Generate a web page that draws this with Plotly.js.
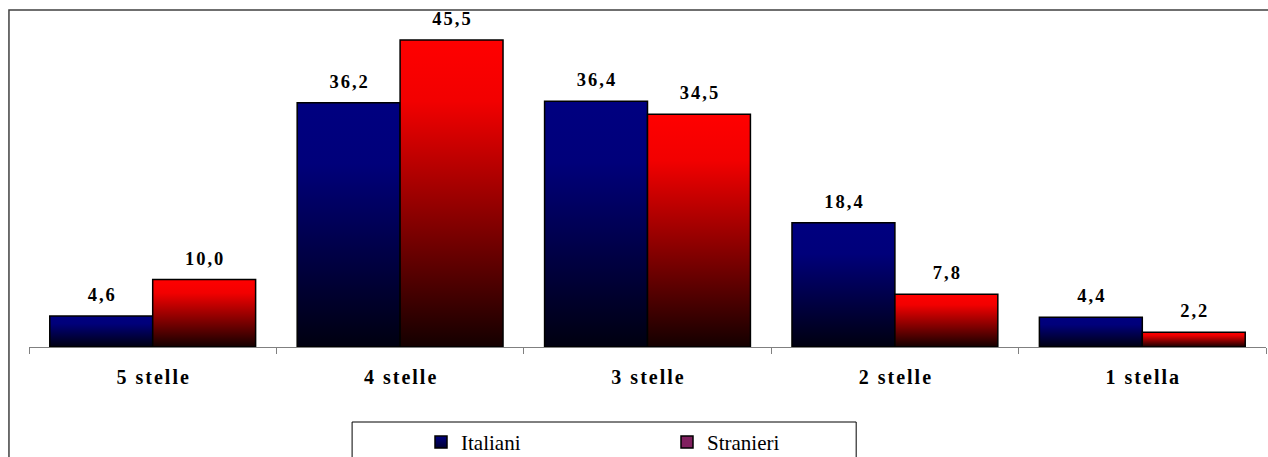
<!DOCTYPE html>
<html>
<head>
<meta charset="utf-8">
<script src="https://cdn.plot.ly/plotly-3.0.1.min.js"></script>
<style>
html,body{margin:0;padding:0;background:#fff;}
#chart{width:1268px;height:457px;}
#chart svg text{font-family:'Liberation Serif','Times New Roman',serif !important;}
</style>
</head>
<body>
<div id="chart"></div>
<script>
var categories = ["5 stelle", "4 stelle", "3 stelle", "2 stelle", "1 stella"];
var italiani = [4.6, 36.2, 36.4, 18.4, 4.4];
var stranieri = [10.0, 45.5, 34.5, 7.8, 2.2];
var seriesNames = ["Italiani", "Stranieri"];

var SERIF = "Liberation Serif";
var labelFont = {family: SERIF, size: 18.5, color: "#000", weight: "bold"};

var traces = [
  {
    type: "bar", name: seriesNames[0], x: categories, y: italiani,
    marker: {color: "#000080", line: {color: "#000", width: 1.5}},
    texttemplate: "%{y:.1f}", textposition: "outside", cliponaxis: false,
    textfont: labelFont, hoverinfo: "none"
  },
  {
    type: "bar", name: seriesNames[1], x: categories, y: stranieri,
    marker: {color: "#80205f", line: {color: "#000", width: 1.5}},
    texttemplate: "%{y:.1f}", textposition: "outside", cliponaxis: false,
    textfont: labelFont, hoverinfo: "none"
  }
];

var layout = {
  width: 1268, height: 457,
  margin: {l: 29, r: 2, t: 20, b: 110, autoexpand: false},
  paper_bgcolor: "#fff", plot_bgcolor: "#fff",
  font: {family: SERIF, color: "#000"},
  separators: ",.",
  barmode: "group", bargap: 0.168, bargroupgap: 0,
  showlegend: true,
  legend: {
    orientation: "h", x: 0.3169, xanchor: "left", y: -0.229, yanchor: "top",
    font: {family: SERIF, size: 21, color: "#000"},
    bgcolor: "rgba(0,0,0,0)", borderwidth: 0,
    entrywidth: 201, entrywidthmode: "pixels", itemclick: false
  },
  xaxis: {
    type: "category", showline: true, linecolor: "#808080", linewidth: 1,
    ticks: "outside", tickson: "boundaries", ticklen: 6, tickcolor: "#808080",
    tickfont: {family: SERIF, size: 20, color: "#000", weight: "bold"},
    ticklabelstandoff: 12, showgrid: false, zeroline: false, fixedrange: true,
    automargin: false
  },
  yaxis: {
    range: [0, 48.45], visible: false, showgrid: false, zeroline: false, fixedrange: true
  },
  shapes: [
    {type: "rect", xref: "paper", yref: "paper", x0: -0.0162, x1: 1.05, y0: -0.3425, y1: 1.0306,
     line: {color: "#404040", width: 1.5}, fillcolor: "rgba(0,0,0,0)", layer: "below"},
    {type: "rect", xref: "paper", yref: "paper", x0: 0.2612, x1: 0.6687, y0: -0.2294, y1: -0.5,
     line: {color: "#000", width: 1}, fillcolor: "rgba(0,0,0,0)", layer: "below"}
  ]
};

Plotly.newPlot("chart", traces, layout, {staticPlot: true, displayModeBar: false}).then(function (gd) {
  var svg = gd.querySelector("svg.main-svg");
  var ns = "http://www.w3.org/2000/svg";
  var defs = document.createElementNS(ns, "defs");
  function grad(id, stops) {
    var g = document.createElementNS(ns, "linearGradient");
    g.setAttribute("id", id);
    g.setAttribute("x1", "0"); g.setAttribute("y1", "0");
    g.setAttribute("x2", "0"); g.setAttribute("y2", "1");
    stops.forEach(function (s) {
      var st = document.createElementNS(ns, "stop");
      st.setAttribute("offset", s[0]);
      st.setAttribute("stop-color", s[1]);
      g.appendChild(st);
    });
    defs.appendChild(g);
  }
  grad("gBlue", [["0", "#000080"], ["0.25", "#00007a"], ["1", "#000010"]]);
  grad("gRed", [["0", "#ff0000"], ["0.2", "#f20000"], ["1", "#140000"]]);
  grad("gBlueLeg", [["0", "#000080"], ["1", "#000030"]]);
  svg.insertBefore(defs, svg.firstChild);
  var ids = ["gBlue", "gRed"];
  gd.querySelectorAll(".barlayer .trace.bars").forEach(function (tr, i) {
    tr.querySelectorAll(".point path").forEach(function (p) {
      p.style.fill = "url(#" + ids[i] + ")";
    });
    tr.querySelectorAll(".point text").forEach(function (t) {
      var tf = t.getAttribute("transform") || "";
      t.setAttribute("transform", "translate(1,-8) " + tf);
      t.style.letterSpacing = "2px";
    });
  });
  gd.querySelectorAll(".xtick text").forEach(function (t) {
    t.style.letterSpacing = "2px";
    var tf = t.getAttribute("transform") || "";
    t.setAttribute("transform", "translate(1,0) " + tf);
  });
  gd.querySelectorAll("svg text").forEach(function (t) {
    t.style.fontFamily = "'Liberation Serif', 'Times New Roman', serif";
  });
  var legPts = gd.querySelectorAll(".legend .traces .legendpoints path");
  if (legPts[0]) legPts[0].style.fill = "url(#gBlueLeg)";
});
</script>
</body>
</html>
